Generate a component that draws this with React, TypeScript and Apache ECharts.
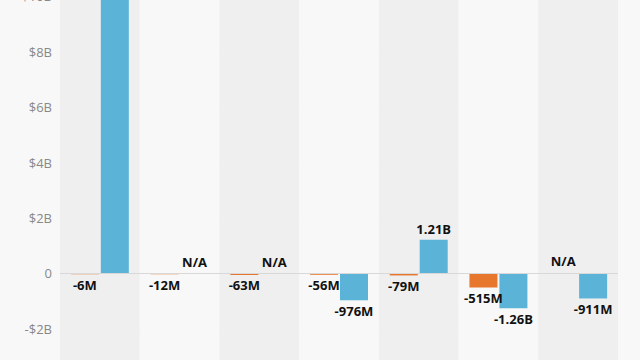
import React, { useEffect, useRef } from "react";
import * as echarts from "echarts";

const categories = ["A", "B", "C", "D", "E", "F", "G"];
// values in millions of dollars; null = N/A
const orangeValues: (number | null)[] = [-6, -12, -63, -56, -79, -515, null];
const blueValues: (number | null)[] = [10900, null, null, -976, 1210, -1260, -911];
const yTicks = { min: -4000, max: 12000, interval: 2000 };

const ORANGE = "#e8772e";
const BLUE = "#5cb3d8";

function fmtValue(v: number): string {
  const a = Math.abs(v);
  const s = v < 0 ? "-" : "";
  if (a >= 1000) return s + (a / 1000).toFixed(2) + "B";
  return s + a + "M";
}

function buildData(vals: (number | null)[]) {
  return vals.map((v) => {
    if (v === null) {
      return {
        value: 0,
        itemStyle: { color: "rgba(0,0,0,0)" },
        label: { show: true, position: "top", formatter: "N/A", distance: 5 },
      };
    }
    return {
      value: v,
      label: {
        show: true,
        position: v < 0 ? "bottom" : "top",
        formatter: fmtValue(v),
        distance: 4,
      },
    };
  });
}

export default function App() {
  const ref = useRef<HTMLDivElement>(null);
  useEffect(() => {
    if (!ref.current) return;
    const chart = echarts.init(ref.current, null, { renderer: "svg" });
    const labelStyle = {
      color: "#111",
      fontWeight: "bold" as const,
      fontSize: 13,
      fontFamily: "Open Sans",
    };
    chart.setOption({
      animation: false,
      backgroundColor: "#f8f8f8",
      grid: {
        left: 60,
        right: 22,
        top: 0,
        bottom: 0,
        containLabel: false,
        outerBoundsMode: "none",
      },
      xAxis: {
        type: "category",
        data: categories,
        axisLine: { show: false },
        axisTick: { show: false },
        axisLabel: { show: false },
        splitArea: { show: true, areaStyle: { color: ["#efefef", "#f8f8f8"] } },
      },
      yAxis: {
        type: "value",
        min: yTicks.min,
        max: yTicks.max,
        interval: yTicks.interval,
        axisLine: { show: false },
        axisTick: { show: false },
        axisLabel: {
          color: "#888888",
          fontSize: 13,
          fontFamily: "Open Sans",
          margin: 8,
          formatter: (v: number) =>
            v === 0 ? "0" : (v < 0 ? "-" : "") + "$" + Math.abs(v) / 1000 + "B",
        },
        splitLine: { lineStyle: { color: "#ebebeb", width: 1 } },
      },
      series: [
        {
          type: "bar",
          data: buildData(orangeValues),
          barWidth: 28,
          barGap: "7%",
          barMinHeight: 1,
          itemStyle: { color: ORANGE },
          label: labelStyle,
          markLine: {
            silent: true,
            symbol: "none",
            label: { show: false },
            lineStyle: { color: "#d8d8d8", type: "solid", width: 1 },
            data: [{ yAxis: 0 }],
          },
        },
        {
          type: "bar",
          data: buildData(blueValues),
          barWidth: 28,
          itemStyle: { color: BLUE },
          label: labelStyle,
        },
      ],
    });
    return () => chart.dispose();
  }, []);
  return (
    <div
      ref={ref}
      style={{ position: "absolute", left: 0, top: -59, width: 640, height: 443 }}
    />
  );
}
